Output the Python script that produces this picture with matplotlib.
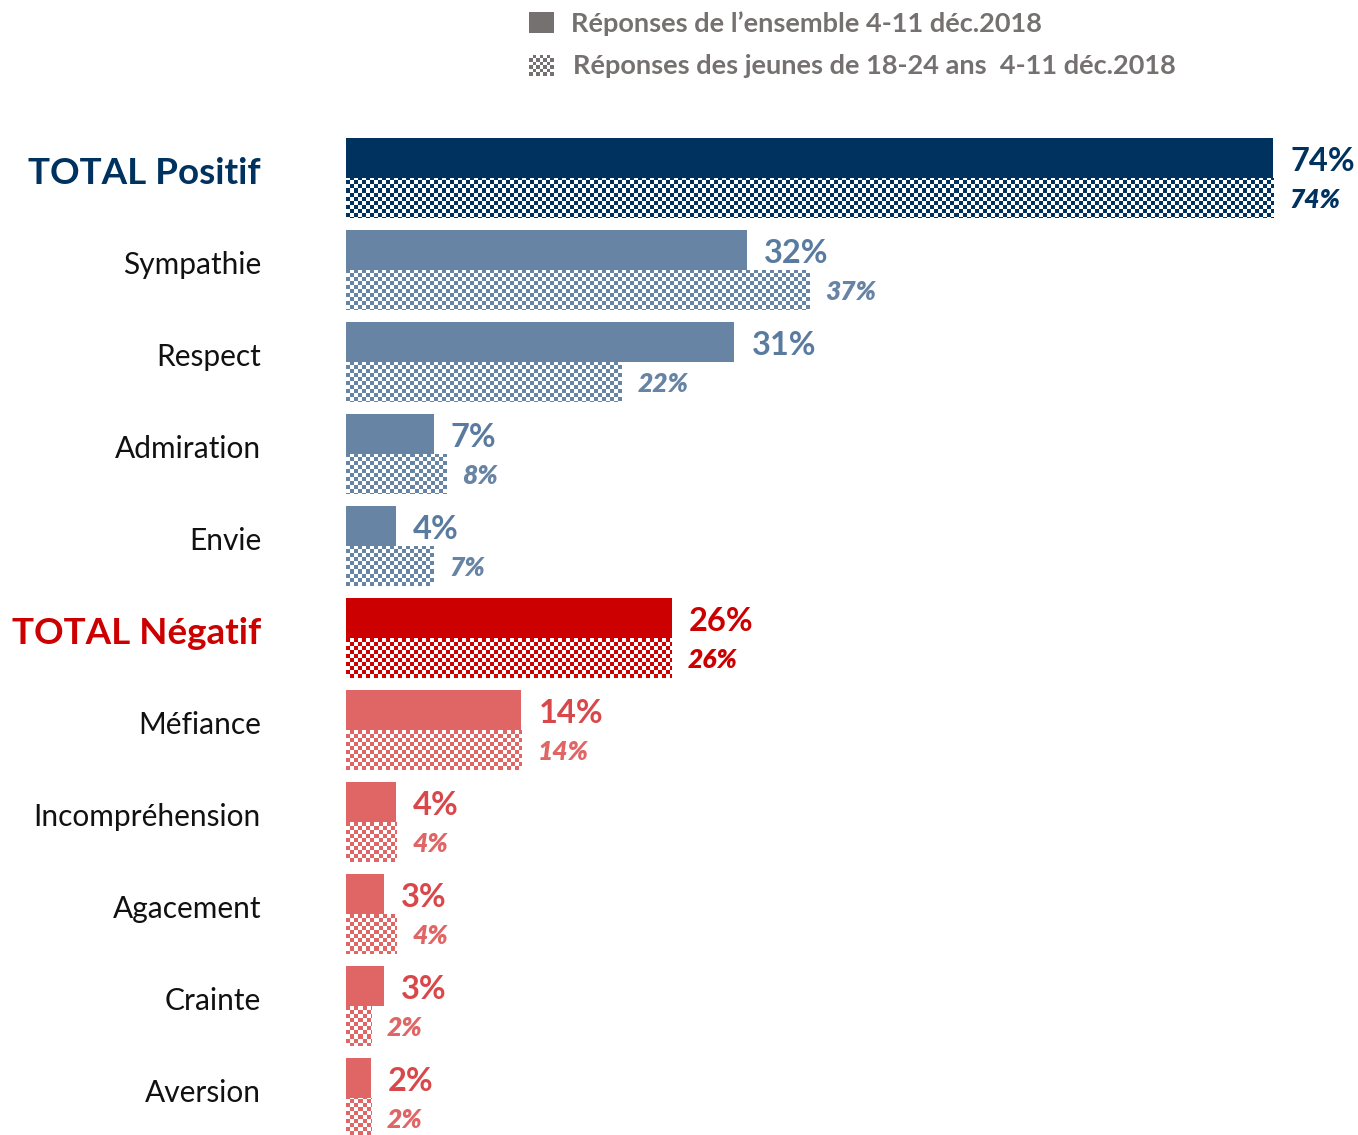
import numpy as np
import matplotlib
matplotlib.use("Agg")
import matplotlib.pyplot as plt
from matplotlib.colors import ListedColormap

# data
categories = ["TOTAL Positif", "Sympathie", "Respect", "Admiration", "Envie",
              "TOTAL Négatif", "Méfiance", "Incompréhension", "Agacement",
              "Crainte", "Aversion"]
ensemble = [74, 32, 31, 7, 4, 26, 14, 4, 3, 3, 2]
jeunes = [74, 37, 22, 8, 7, 26, 14, 4, 4, 2, 2]
is_total = [True, False, False, False, False, True, False, False, False, False, False]
is_pos = [True, True, True, True, True, False, False, False, False, False, False]

legend_labels = ["Réponses de l\u2019ensemble 4-11 déc.2018",
                 "Réponses des jeunes de 18-24 ans  4-11 déc.2018"]

NAVY = "#00325F"
SLATE = "#6784A4"
SLATE_TXT = "#5A7BA0"
RED = "#CC0000"
PINK = "#E06666"
PINK_TXT = "#D9474A"
GREY = "#767171"

FONT = ["Lato", "DejaVu Sans"]
plt.rcParams["font.family"] = FONT

W, H = 1358, 1135
fig = plt.figure(figsize=(W / 100, H / 100), dpi=100)

x0_px = 346
px_per_pct = 12.53
pitch = 92
row0_center = 178
bar_h = 40 / pitch

ax = fig.add_axes([x0_px / W, 0, 1 - x0_px / W, 1])
xmax = (W - x0_px) / px_per_pct
ymin = -row0_center / pitch
ymax = (H - row0_center) / pitch

# checker pattern for the hatched bars (4 px cells)
cell = 4
nx = int((W - x0_px) / cell)
ny = int(H / cell)
checker = (np.add.outer(np.arange(ny), np.arange(nx)) % 2).astype(float)


def colors_for(i):
    if is_total[i]:
        c = NAVY if is_pos[i] else RED
        return c, c
    return (SLATE, SLATE_TXT) if is_pos[i] else (PINK, PINK_TXT)


y = np.arange(len(categories))
for i, cat in enumerate(categories):
    col, tcol = colors_for(i)
    ax.barh(y[i] - bar_h / 2, ensemble[i], height=bar_h, color=col, linewidth=0)
    hb = ax.barh(y[i] + bar_h / 2, jeunes[i], height=bar_h, color="none", linewidth=0)
    im = ax.imshow(checker, cmap=ListedColormap(["white", col]), extent=(0, xmax, ymax, ymin),
                   aspect="auto", interpolation="nearest", zorder=2)
    im.set_clip_path(hb.patches[0])

    # value labels
    ax.text(ensemble[i] + 17 / px_per_pct, y[i] - bar_h / 2 + 4 / pitch, f"{ensemble[i]}%",
            color=tcol, fontsize=23.5, fontweight="bold", va="center", ha="left")
    ax.text(jeunes[i] + 16 / px_per_pct, y[i] + bar_h / 2 + 2 / pitch, f"{jeunes[i]}%",
            color=tcol if is_total[i] else col, fontsize=19, fontweight="heavy",
            fontstyle="italic", va="center", ha="left")

    # category labels
    ypx = row0_center + pitch * i - 5
    if is_total[i]:
        fig.text(261 / W, 1 - ypx / H, cat, color=col, fontsize=26.5, fontweight="bold",
                 ha="right", va="center")
    else:
        fig.text(261 / W, 1 - ypx / H, cat, color="#111111", fontsize=21.5,
                 ha="right", va="center")

ax.set_xlim(0, xmax)
ax.set_ylim(ymax, ymin)
ax.axis("off")

# legend
fig.patches.append(plt.Rectangle((529 / W, 1 - 33 / H), 25 / W, 21 / H,
                                 transform=fig.transFigure, color=GREY, linewidth=0))
lax = fig.add_axes([529 / W, 1 - 76 / H, 25 / W, 21 / H])
lchk = (np.add.outer(np.arange(6), np.arange(7)) % 2).astype(float)
lax.imshow(lchk, cmap=ListedColormap(["white", GREY]), aspect="auto", interpolation="nearest")
lax.axis("off")
fig.text(571 / W, 1 - 24 / H, legend_labels[0], color=GREY, fontsize=19.5,
         fontweight="bold", ha="left", va="center")
fig.text(573 / W, 1 - 66 / H, legend_labels[1], color=GREY, fontsize=19.5,
         fontweight="bold", ha="left", va="center")

fig.savefig("out.png", dpi=100)
